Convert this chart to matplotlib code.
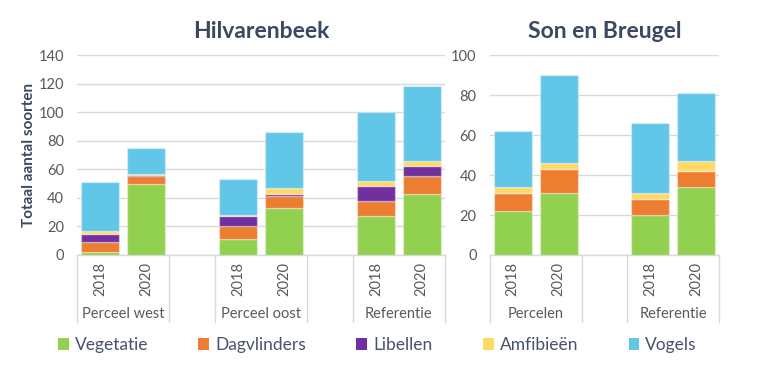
import matplotlib.pyplot as plt
from matplotlib.patches import Patch
import numpy as np

plt.rcParams['font.family'] = ['Lato', 'DejaVu Sans']

# soortgroepen (stapelvolgorde van onder naar boven)
groepen = ['Vegetatie', 'Dagvlinders', 'Libellen', 'Amfibieën', 'Vogels']
kleuren = ['#92D050', '#ED7D31', '#7030A0', '#FFD966', '#62C6E6']

jaren = ['2018', '2020']

# Hilvarenbeek
hb_locaties = ['Perceel west', 'Perceel oost', 'Referentie']
hb_vegetatie = [2, 50, 11, 33, 27, 43]
hb_dagvlinders = [7, 5, 9, 8, 11, 12]
hb_libellen = [6, 1, 7, 2, 10, 7]
hb_amfibieen = [2, 1, 1, 4, 4, 4]
hb_vogels = [34, 18, 25, 39, 48, 52]

# Son en Breugel
sb_locaties = ['Percelen', 'Referentie']
sb_vegetatie = [22, 31, 20, 34]
sb_dagvlinders = [9, 12, 8, 8]
sb_libellen = [0, 0, 0, 0]
sb_amfibieen = [3, 3, 3, 5]
sb_vogels = [28, 44, 35, 34]

titelkleur = '#3A4860'
tekstkleur = '#595959'
lijnkleur = '#D9D9D9'


def teken(ax, locaties, reeksen, ymax, titel):
    n = len(locaties)
    # elke locatie krijgt 2 jaren + 1 lege plek ertussen
    pos = []
    for i in range(n):
        pos += [i * 3, i * 3 + 1]
    pos = np.array(pos)
    bodem = np.zeros(len(pos))
    for waarden, kleur in zip(reeksen, kleuren):
        waarden = np.array(waarden)
        ax.bar(pos, waarden, bottom=bodem, width=0.83, color=kleur,
               edgecolor=(1, 1, 1, 0.35), linewidth=1, zorder=3)
        bodem += waarden

    ax.set_xlim(-0.5, 3 * n - 1.5)
    ax.set_ylim(0, ymax)
    ax.set_yticks(range(0, ymax + 1, 20))
    ax.grid(axis='y', color=lijnkleur, lw=1, zorder=0)
    for s in ax.spines.values():
        s.set_visible(False)
    ax.tick_params(axis='y', length=0, pad=9.5, labelsize=10.5, labelcolor=tekstkleur)
    ax.set_xticks([])

    tr = ax.get_xaxis_transform()
    # categorie-as met twee niveaus
    ax.plot([-0.5, 3 * n - 1.5], [0, 0], color=lijnkleur, lw=1,
            transform=tr, clip_on=False)
    grenzen = []
    for i in range(n):
        grenzen += [i * 3 - 0.5, i * 3 + 1.5]
    for g in grenzen:
        ax.plot([g, g], [0, -0.335], color=lijnkleur, lw=1,
                transform=tr, clip_on=False)
    for i, p in enumerate(pos):
        ax.text(p, -0.118, jaren[i % 2], rotation=90, ha='center', va='center',
                fontsize=10.5, color=tekstkleur, transform=tr)
    for i, loc in enumerate(locaties):
        ax.text(i * 3 + 0.5, -0.295, loc, ha='center', va='center',
                fontsize=10.5, color=tekstkleur, transform=tr)

    ax.set_title(titel, fontsize=16.5, fontweight='bold', color=titelkleur, pad=12)


fig = plt.figure(figsize=(7.7, 3.75), dpi=100)
ax1 = fig.add_axes([0.1006, 0.32, 0.477, 0.5333])
ax2 = fig.add_axes([0.636, 0.32, 0.298, 0.5333])

teken(ax1, hb_locaties,
      [hb_vegetatie, hb_dagvlinders, hb_libellen, hb_amfibieen, hb_vogels],
      140, 'Hilvarenbeek')
teken(ax2, sb_locaties,
      [sb_vegetatie, sb_dagvlinders, sb_libellen, sb_amfibieen, sb_vogels],
      100, 'Son en Breugel')

ax1.set_ylabel('Totaal aantal soorten', fontsize=11, fontweight='bold',
               color=titelkleur, labelpad=2)

handles = [Patch(facecolor=k, edgecolor='none') for k in kleuren]
fig.legend(handles, groepen, ncol=5, loc='center', bbox_to_anchor=(0.49, 0.08),
           frameon=False, fontsize=12.5, handlelength=0.62, handleheight=0.62,
           handletextpad=0.35, columnspacing=2.9, labelcolor='#44546A')

fig.savefig('out.png', dpi=100, facecolor='white')
